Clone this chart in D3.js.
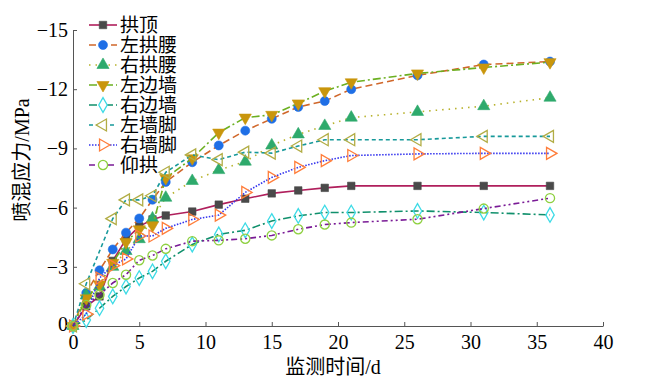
<!DOCTYPE html>
<html>
<head>
<meta charset="utf-8">
<script src="https://cdn.jsdelivr.net/npm/d3@7/dist/d3.min.js"></script>
<style>
	body { margin: 0; background: #fff; }
	svg text { font-family: "Liberation Serif", "Noto Sans CJK SC", serif; fill: #000; }
</style>
</head>
<body>
<div id="chart"></div>
<script>
	// monitoring days
	var days = [0, 1, 2, 3, 4, 5, 6, 7, 9, 11, 13, 15, 17, 19, 21, 26, 31, 36];
	var seriesNames = ["拱顶", "左拱腰", "右拱腰", "左边墙", "右边墙", "左墙脚", "右墙脚", "仰拱"];

	// stress values (MPa), one array per position
	var gongDing = [0, -1.0, -1.5, -3.3, -4.4, -5.05, -5.4, -5.6, -5.8, -6.15, -6.45, -6.72, -6.87, -7.0, -7.1, -7.1, -7.1, -7.1];
	var zuoGongYao = [0, -1.67, -2.82, -3.88, -4.73, -5.45, -6.4, -7.3, -8.3, -9.15, -9.9, -10.5, -11.1, -11.4, -12.0, -12.7, -13.25, -13.4];
	var youGongYao = [0, -1.55, -2.0, -3.0, -3.8, -4.4, -5.45, -6.5, -7.35, -7.9, -8.33, -9.15, -9.71, -10.14, -10.56, -10.85, -11.14, -11.57];
	var zuoBianQiang = [0, -1.4, -2.1, -3.2, -4.25, -4.9, -5.1, -7.5, -8.5, -9.8, -10.56, -10.7, -11.28, -11.9, -12.35, -12.8, -13.1, -13.37];
	var youBianQiang = [0, -0.3, -0.9, -1.5, -2.0, -2.43, -2.77, -3.28, -4.13, -4.64, -4.85, -5.32, -5.58, -5.75, -5.75, -5.83, -5.75, -5.63];
	var zuoQiangJiao = [0, -2.14, null, -5.44, -6.39, -6.39, -6.6, -7.79, -8.67, -8.43, -8.81, -8.76, -9.12, -9.44, -9.44, -9.44, -9.61, -9.61];
	var youQiangJiao = [0, -0.6, -2.43, -3.06, -3.4, -4.56, -4.56, -4.95, -5.4, -5.62, -6.77, -7.53, -8.04, -8.38, -8.64, -8.72, -8.75, -8.75];
	var yangGong = [0, -1.07, -1.58, -2.18, -2.6, -3.33, -3.57, -3.91, -4.3, -4.34, -4.42, -4.59, -4.9, -5.14, -5.24, -5.41, -5.95, -6.48];

	var xTicks = [0, 5, 10, 15, 20, 25, 30, 35, 40];
	var yTicks = [0, -3, -6, -9, -12, -15];

	var allValues = [gongDing, zuoGongYao, youGongYao, zuoBianQiang, youBianQiang, zuoQiangJiao, youQiangJiao, yangGong];

	// look of each series: line colour, dash, marker symbol, marker colour, filled or open
	var styles = [
		{ line: "#b01f5c", dash: null, symbol: d3.symbolSquare, size: 56, color: "#4a4a4a", fill: true },
		{ line: "#d0672a", dash: "7,4", symbol: d3.symbolCircle, size: 64, color: "#1f6fe6", fill: true },
		{ line: "#b8b22c", dash: "1.5,5", symbol: d3.symbolTriangle, size: 64, color: "#2eaa6c", fill: true },
		{ line: "#6cb021", dash: "8,3,2,3", symbol: "down", size: 64, color: "#c9960c", fill: true },
		{ line: "#10906c", dash: "8,3,2,3", symbol: d3.symbolDiamond, size: 62, color: "#3ddbe6", fill: false },
		{ line: "#17999a", dash: "4,3", symbol: "left", size: 62, color: "#b2ad45", fill: false },
		{ line: "#3434ee", dash: "1.5,1.5", symbol: "right", size: 62, color: "#ff7d3a", fill: false },
		{ line: "#7a1b96", dash: "6,3,2,3,2,3", symbol: d3.symbolCircle, size: 66, color: "#8ed040", fill: false }
	];

	var width = 646, height = 388;
	var margin = { top: 30, right: 43, bottom: 62, left: 73 };

	var svg = d3.select("#chart").append("svg")
		.attr("width", width)
		.attr("height", height);

	var x = d3.scaleLinear().domain([0, 40]).range([margin.left, width - margin.right]);
	var y = d3.scaleLinear().domain([0, -15]).range([height - margin.bottom, margin.top]);

	// axes, ticks pointing into the plot
	var xAxis = d3.axisBottom(x).tickValues(xTicks).tickSizeInner(-4).tickSizeOuter(0).tickPadding(9);
	var yAxis = d3.axisLeft(y).tickValues(yTicks).tickSizeInner(-4).tickSizeOuter(0).tickPadding(5)
		.tickFormat(d3.format("d"));

	var gx = svg.append("g")
		.attr("transform", "translate(0," + y(0) + ")")
		.call(xAxis);
	var gy = svg.append("g")
		.attr("transform", "translate(" + x(0) + ",0)")
		.call(yAxis);

	[gx, gy].forEach(function(g) {
		g.selectAll("path, line").attr("stroke", "#555").attr("stroke-width", 1);
		g.selectAll("text").style("font-size", "20px").attr("fill", "#000");
	});
	// lift the y zero a little, like the original
	gy.selectAll("text").filter(function(d) { return d === 0; }).attr("dy", "0.2em");

	// axis titles
	svg.append("text")
		.attr("x", x(20) - 5)
		.attr("y", 374)
		.attr("text-anchor", "middle")
		.style("font-size", "20px")
		.text("监测时间/d");

	svg.append("text")
		.attr("transform", "translate(29," + 160 + ") rotate(-90)")
		.attr("text-anchor", "middle")
		.style("font-size", "20px")
		.text("喷混应力/MPa");

	// triangles pointing down / left / right are rotated versions of the up one
	function markerPath(s) {
		var type = typeof s.symbol === "string" ? d3.symbolTriangle : s.symbol;
		return d3.symbol().type(type).size(s.size)();
	}
	function markerRotate(s) {
		if (s.symbol === "down") return 180;
		if (s.symbol === "left") return -90;
		if (s.symbol === "right") return 90;
		return 0;
	}

	var line = d3.line()
		.x(function(d) { return x(d.day); })
		.y(function(d) { return y(d.v); });

	var plot = svg.append("g");

	allValues.forEach(function(vals, i) {
		var s = styles[i];
		var pts = days.map(function(dd, j) { return { day: dd, v: vals[j] }; })
			.filter(function(d) { return d.v !== null; });

		plot.append("path")
			.datum(pts)
			.attr("fill", "none")
			.attr("stroke", s.line)
			.attr("stroke-width", 1.6)
			.attr("stroke-dasharray", s.dash)
			.attr("d", line);

		plot.selectAll(null)
			.data(pts)
			.enter().append("path")
			.attr("d", markerPath(s))
			.attr("transform", function(d) {
				return "translate(" + x(d.day) + "," + y(d.v) + ") rotate(" + markerRotate(s) + ")";
			})
			.attr("fill", s.fill ? s.color : "none")
			.attr("stroke", s.color)
			.attr("stroke-width", s.fill ? 0.6 : 1.3);
	});

	// legend, top-left inside the plot
	var legend = svg.append("g").attr("transform", "translate(89,25)");
	seriesNames.forEach(function(name, i) {
		var s = styles[i];
		var row = legend.append("g").attr("transform", "translate(0," + (i * 20) + ")");
		row.append("line")
			.attr("x1", 0).attr("x2", 28)
			.attr("stroke", s.line)
			.attr("stroke-width", 1.6)
			.attr("stroke-dasharray", s.dash);
		row.append("path")
			.attr("d", markerPath(s))
			.attr("transform", "translate(14,0) rotate(" + markerRotate(s) + ")")
			.attr("fill", s.fill ? s.color : "#fff")
			.attr("stroke", s.color)
			.attr("stroke-width", s.fill ? 0.6 : 1.3);
		row.append("text")
			.attr("x", 31)
			.attr("dy", "0.36em")
			.style("font-size", "19px")
			.text(name);
	});
</script>
</body>
</html>
